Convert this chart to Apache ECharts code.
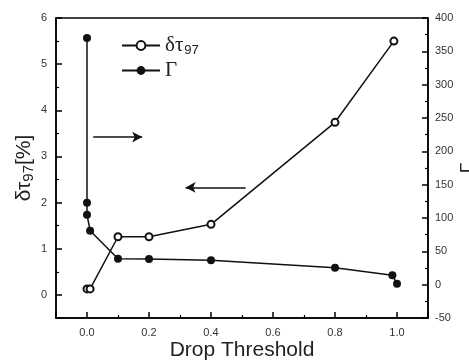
<!DOCTYPE html>
<html>
<head>
<meta charset="utf-8">
<script src="https://cdn.jsdelivr.net/npm/echarts@6/dist/echarts.min.js"></script>
<style>
  html, body { margin: 0; padding: 0; background: #fff; }
  #chart { width: 469px; height: 362px; }
</style>
</head>
<body>
<div id="chart"></div>
<script>
// delta tau_97 (left axis, %)
const tauX = [0, 0.01, 0.1, 0.2, 0.4, 0.8, 0.99];
const tauValues = [0.13, 0.13, 1.26, 1.26, 1.53, 3.74, 5.5];
// Gamma (right axis)
const gammaX = [0, 0, 0, 0.01, 0.1, 0.2, 0.4, 0.8, 0.985, 1.0];
const gammaValues = [370, 123, 105, 81, 39, 38.5, 36.5, 25.5, 14, 1.5];
// tick labels
const xTicks = [0, 0.2, 0.4, 0.6, 0.8, 1.0];
const leftTicks = [0, 1, 2, 3, 4, 5, 6];
// arrows: [from x, to x, y on left axis]
const arrows = [[0.02, 0.178, 3.42], [0.512, 0.318, 2.33]];

const pairs = (xs, ys) => xs.map((x, i) => [x, ys[i]]);
const inList = (list, v) => list.some(t => Math.abs(t - v) < 1e-6);

const axisLine = { show: true, onZero: false, lineStyle: { color: '#000', width: 1.5 } };
const labelStyle = { color: '#333', fontSize: 11, fontFamily: 'Liberation Sans' };
const majorTick = { inside: true, length: 6, lineStyle: { color: '#000', width: 1.5 } };
const minorTick = { show: true, splitNumber: 2, length: 3, lineStyle: { color: '#000', width: 1.2 } };

const myChart = echarts.init(document.getElementById('chart'));
myChart.setOption({
  animation: false,
  grid: {
    left: 56, right: 41, top: 18, bottom: 44,
    outerBoundsMode: 'none',
    show: true, borderColor: '#000', borderWidth: 1.5
  },
  legend: {
    left: 116, top: 30,
    orient: 'vertical',
    itemWidth: 38, itemHeight: 11, itemGap: 3,
    data: ['tau', 'gamma'],
    formatter: name => name === 'tau' ? '{g|δτ}{s|97}' : '{g|Γ}',
    textStyle: {
      rich: {
        g: { fontFamily: 'Liberation Serif', fontSize: 21, color: '#222' },
        s: { fontFamily: 'Liberation Sans', fontSize: 13, color: '#222', padding: [10, 0, 0, 1] }
      }
    }
  },
  xAxis: {
    type: 'value', min: -0.1, max: 1.1, splitNumber: 6,
    name: 'Drop Threshold', nameLocation: 'middle', nameGap: 22, nameMoveOverlap: false,
    nameTextStyle: { fontFamily: 'Liberation Sans', fontSize: 21, color: '#222' },
    axisLine: axisLine,
    axisTick: majorTick,
    minorTick: minorTick,
    splitLine: { show: false },
    axisLabel: Object.assign({ margin: 9, formatter: v => inList(xTicks, v) ? v.toFixed(1) : '' }, labelStyle)
  },
  yAxis: [
    {
      type: 'value', min: -0.5, max: 6, splitNumber: 6, position: 'left',
      name: '{a|δτ}{b|97}{a|[%]}', nameLocation: 'middle', nameGap: 20, nameMoveOverlap: false,
      nameTextStyle: {
        rich: {
          a: { fontFamily: 'Liberation Sans', fontSize: 21, color: '#222' },
          b: { fontFamily: 'Liberation Sans', fontSize: 15, color: '#222', padding: [9, 0, 0, 0] }
        }
      },
      axisLine: axisLine,
      axisTick: majorTick,
      minorTick: minorTick,
      splitLine: { show: false },
      axisLabel: Object.assign({ margin: 9, formatter: v => inList(leftTicks, v) ? String(v) : '' }, labelStyle)
    },
    {
      type: 'value', min: -50, max: 400, interval: 50, position: 'right',
      name: 'Γ', nameLocation: 'middle', nameGap: 30, nameRotate: 90, nameMoveOverlap: false,
      nameTextStyle: { fontFamily: 'Liberation Sans', fontSize: 19, color: '#222' },
      axisLine: axisLine,
      axisTick: majorTick,
      minorTick: minorTick,
      splitLine: { show: false },
      axisLabel: Object.assign({ margin: 7 }, labelStyle)
    }
  ],
  series: [
    {
      name: 'tau', type: 'line', yAxisIndex: 0,
      data: pairs(tauX, tauValues),
      symbol: 'emptyCircle', symbolSize: 7,
      lineStyle: { color: '#111', width: 1.5 },
      itemStyle: { color: '#111', borderColor: '#111', borderWidth: 1.5 },
      markLine: {
        silent: true,
        symbol: ['none', 'arrow'], symbolSize: [8, 10],
        label: { show: false },
        lineStyle: { color: '#111', width: 1.5, type: 'solid' },
        data: arrows.map(a => [{ coord: [a[0], a[2]] }, { coord: [a[1], a[2]] }])
      }
    },
    {
      name: 'gamma', type: 'line', yAxisIndex: 1,
      data: pairs(gammaX, gammaValues),
      symbol: 'circle', symbolSize: 8,
      lineStyle: { color: '#111', width: 1.5 },
      itemStyle: { color: '#111' }
    }
  ]
});
window.onresize = function () {
  myChart.resize();
};
</script>
</body>
</html>
